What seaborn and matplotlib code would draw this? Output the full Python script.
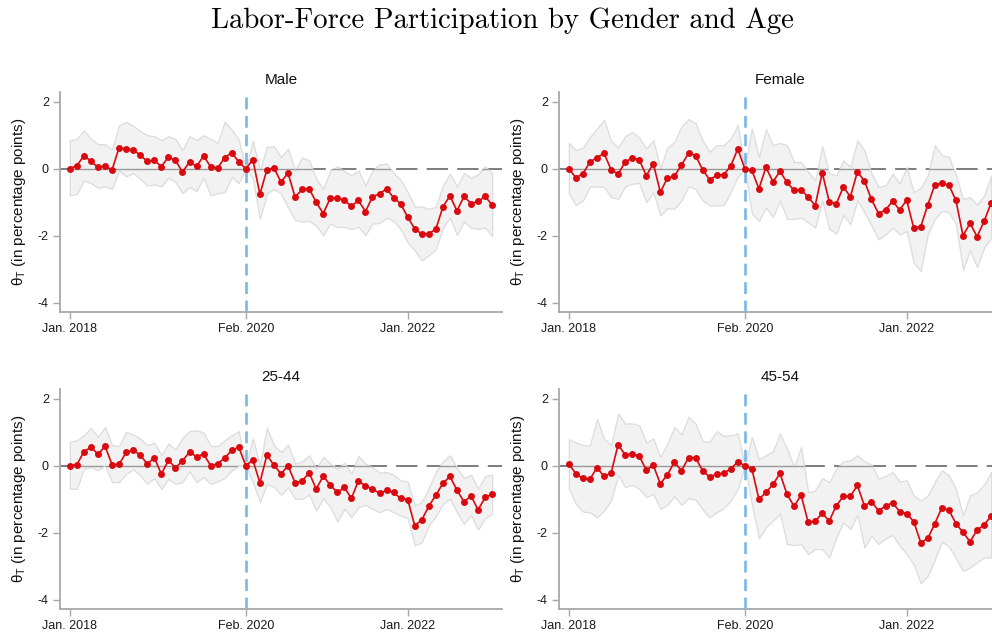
import numpy as np
import pandas as pd
import matplotlib
matplotlib.use("Agg")
import matplotlib.pyplot as plt
import seaborn as sns

# =====================================================
# Data (event-study coefficients, Jan. 2018 - Jan. 2023)
# =====================================================
month_idx = list(range(61))
tick_pos = [0, 25, 48]
tick_labels = ["Jan. 2018", "Feb. 2020", "Jan. 2022"]
event_month = 25

male = [0.0, 0.09, 0.39, 0.22, 0.04, 0.07, -0.03, 0.63, 0.58, 0.57,
        0.40, 0.22, 0.25, 0.06, 0.35, 0.25, -0.10, 0.20, 0.07, 0.38,
        0.06, 0.02, 0.33, 0.48, 0.20, 0.0, 0.27, -0.76, -0.03, 0.02,
        -0.40, -0.13, -0.85, -0.62, -0.60, -1.0, -1.34, -0.88, -0.88, -0.95,
        -1.12, -0.95, -1.28, -0.84, -0.75, -0.60, -0.87, -1.05, -1.45, -1.79,
        -1.96, -1.94, -1.81, -1.14, -0.81, -1.26, -0.83, -1.04, -0.98, -0.83,
        -1.08]
male_hi = [0.85, 0.89, 1.14, 0.89, 0.73, 0.73, 0.57, 1.30, 1.40, 1.28,
           1.12, 1.0, 0.97, 0.85, 0.97, 0.89, 0.55, 0.97, 0.85, 1.0,
           0.89, 0.77, 1.40, 1.16, 0.87, 0.0, 0.83, -0.05, 0.65, 0.67,
           0.35, 0.6, -0.05, 0.33, 0.25, -0.3, -0.6, -0.05, 0.07, -0.07,
           -0.2, -0.05, -0.5, -0.05, 0.13, 0.15, -0.13, -0.33, -0.7, -1.13,
           -1.13, -1.2, -1.14, -0.5, -0.15, -0.53, -0.13, -0.27, -0.17, 0.07,
           -0.13]
male_lo = [-0.8, -0.75, -0.35, -0.43, -0.57, -0.53, -0.6, -0.05, -0.23, -0.13,
           -0.3, -0.5, -0.47, -0.53, -0.27, -0.4, -0.73, -0.55, -0.67, -0.27,
           -0.8, -0.73, -0.7, -0.25, -0.43, 0.0, -0.3, -1.5, -0.75, -0.6,
           -0.75, -1.15, -1.53, -1.58, -1.56, -1.7, -1.98, -1.64, -1.74, -1.74,
           -1.8, -1.74, -1.98, -1.64, -1.62, -1.46, -1.56, -1.8, -2.2, -2.44,
           -2.74, -2.58, -2.41, -1.76, -1.46, -1.98, -1.58, -1.76, -1.8, -1.76,
           -2.01]

female = [0.0, -0.27, -0.15, 0.2, 0.33, 0.46, -0.03, -0.16, 0.2, 0.32,
          0.27, -0.21, 0.15, -0.70, -0.28, -0.22, 0.11, 0.46, 0.39, -0.03,
          -0.33, -0.2, -0.18, 0.08, 0.59, 0.0, -0.05, -0.6, 0.04, -0.39,
          -0.08, -0.41, -0.65, -0.63, -0.85, -1.1, -0.12, -0.99, -1.05, -0.54,
          -0.84, -0.09, -0.37, -0.92, -1.34, -1.23, -0.97, -1.23, -0.94, -1.77,
          -1.73, -1.08, -0.48, -0.44, -0.49, -0.95, -2.0, -1.63, -2.03, -1.57,
          -1.02]
female_hi = [0.77, 0.55, 0.63, 0.95, 1.2, 1.46, 0.83, 0.63, 0.97, 1.1,
             0.93, 0.6, 0.85, 0.0, 0.63, 0.8, 1.26, 1.48, 1.36, 0.85,
             0.5, 0.7, 0.7, 0.9, 1.3, 0.0, 1.2, 0.35, 1.18, 0.7,
             0.77, 0.7, 0.2, 0.2, -0.1, -0.35, 0.67, -0.15, -0.2, 0.25,
             0.05, 0.85, 0.55, -0.15, -0.55, -0.5, -0.15, -0.45, 0.05, -0.7,
             -0.57, -0.2, 0.7, 0.4, 0.35, -0.2, -0.9, -0.85, -1.08, -0.8,
             -0.2]
female_lo = [-0.75, -1.08, -0.95, -0.53, -0.53, -0.55, -0.85, -0.9, -0.53, -0.45,
             -0.43, -1.0, -0.7, -1.4, -1.18, -1.2, -0.95, -0.53, -0.6, -0.95,
             -1.1, -1.1, -1.08, -0.7, -0.25, 0.0, -1.34, -1.56, -1.16, -1.44,
             -0.95, -1.5, -1.5, -1.46, -1.6, -1.76, -0.95, -1.8, -1.94, -1.38,
             -1.66, -0.95, -1.3, -1.7, -2.11, -1.96, -1.76, -1.96, -1.86, -2.81,
             -3.05, -1.96, -1.5, -1.26, -1.3, -1.66, -3.02, -2.44, -2.94, -2.36,
             -2.06]

age_25_44 = [0.0, 0.03, 0.42, 0.55, 0.34, 0.58, 0.03, 0.04, 0.4, 0.46,
             0.32, 0.05, 0.24, -0.25, 0.16, -0.06, 0.14, 0.41, 0.27, 0.35,
             0.0, 0.06, 0.23, 0.46, 0.55, 0.0, 0.17, -0.51, 0.32, 0.01,
             -0.24, 0.0, -0.51, -0.46, -0.21, -0.70, -0.31, -0.58, -0.8, -0.65,
             -0.98, -0.45, -0.61, -0.70, -0.82, -0.74, -0.8, -0.98, -1.01, -1.79,
             -1.62, -1.21, -0.88, -0.53, -0.32, -0.73, -1.08, -0.9, -1.32, -0.95,
             -0.85]
age_25_44_hi = [0.71, 0.76, 0.91, 1.13, 0.86, 1.16, 0.61, 0.59, 1.01, 0.93,
                0.81, 0.61, 0.69, 0.31, 0.66, 0.49, 0.83, 1.03, 1.06, 0.99,
                0.59, 0.59, 0.76, 0.91, 1.03, 0.0, 0.81, 0.01, 1.13, 0.61,
                0.41, 0.63, 0.06, 0.13, 0.31, -0.09, 0.26, 0.06, -0.09, 0.09,
                -0.24, 0.29, 0.06, -0.04, -0.21, -0.19, -0.27, -0.44, -0.47, -1.19,
                -1.09, -0.67, -0.19, 0.13, 0.31, -0.07, -0.37, -0.27, -0.69, -0.31,
                -0.27]
age_25_44_lo = [-0.69, -0.69, -0.09, -0.04, -0.14, 0.01, -0.49, -0.49, -0.24, -0.11,
                -0.29, -0.54, -0.37, -0.69, -0.39, -0.54, -0.49, -0.17, -0.49, -0.34,
                -0.54, -0.47, -0.37, -0.14, -0.01, 0.0, -0.49, -1.09, -0.54, -0.64,
                -0.87, -0.64, -0.99, -0.99, -0.87, -1.34, -0.97, -1.24, -1.67, -1.29,
                -1.54, -1.24, -1.17, -1.29, -1.39, -1.29, -1.39, -1.49, -1.57, -2.37,
                -2.29, -1.79, -1.51, -1.14, -0.99, -1.39, -1.74, -1.47, -1.91, -1.57,
                -1.44]

age_45_54 = [0.05, -0.24, -0.38, -0.40, -0.06, -0.32, -0.22, 0.63, 0.32, 0.35,
             0.29, -0.13, 0.01, -0.54, -0.27, 0.11, -0.15, 0.24, 0.24, -0.15,
             -0.34, -0.25, -0.22, -0.10, 0.12, 0.0, -0.09, -1.0, -0.8, -0.56,
             -0.23, -0.86, -1.21, -0.88, -1.69, -1.66, -1.42, -1.65, -1.19, -0.92,
             -0.91, -0.59, -1.2, -1.07, -1.35, -1.2, -1.11, -1.37, -1.43, -1.67,
             -2.3, -2.17, -1.73, -1.25, -1.33, -1.73, -1.99, -2.27, -1.92, -1.77,
             -1.5]
age_45_54_hi = [0.79, 0.69, 0.61, 0.61, 1.39, 0.81, 0.61, 1.56, 1.26, 1.26,
                1.21, 0.69, 0.81, 0.26, 0.66, 1.16, 0.93, 1.46, 1.26, 0.73,
                0.71, 1.03, 0.89, 0.91, 0.96, 0.0, 0.86, 0.19, 0.31, 0.43,
                0.96, 0.51, -0.04, 0.56, -0.79, -0.74, -0.37, -0.49, -0.09, 0.13,
                0.16, 0.31, 0.13, 0.03, -0.39, -0.31, -0.19, -0.47, -0.44, -0.89,
                -1.04, -0.89, -0.49, -0.14, -0.29, -0.69, -1.49, -0.89, -0.79, -0.57,
                -0.19]
age_45_54_lo = [-0.69, -1.14, -1.37, -1.39, -1.54, -1.34, -1.04, -0.27, -0.64, -0.57,
                -0.69, -0.94, -0.84, -1.29, -1.17, -0.91, -1.17, -0.97, -1.01, -1.31,
                -1.54, -1.39, -1.27, -1.04, -0.69, 0.0, -1.14, -2.17, -1.84, -1.64,
                -1.44, -2.34, -2.37, -2.34, -2.64, -2.49, -2.49, -2.74, -2.14, -1.69,
                -1.89, -1.47, -2.44, -2.09, -2.34, -2.17, -2.07, -2.39, -2.64, -2.94,
                -3.51, -3.29, -2.81, -2.27, -2.41, -2.77, -3.14, -3.04, -2.89, -2.74,
                -2.74]

panel_titles = ["Male", "Female", "25-44", "45-54"]
panel_data = [(male, male_lo, male_hi),
              (female, female_lo, female_hi),
              (age_25_44, age_25_44_lo, age_25_44_hi),
              (age_45_54, age_45_54_lo, age_45_54_hi)]

# =====================================================
# Style
# =====================================================
sns.set_theme(style="white")
plt.rcParams["font.family"] = ["Liberation Sans", "DejaVu Sans"]
plt.rcParams["axes.unicode_minus"] = False
plt.rcParams["mathtext.fontset"] = "custom"
plt.rcParams["mathtext.rm"] = "Liberation Sans"
plt.rcParams["mathtext.it"] = "Liberation Sans:italic"

RED = "#D90A0F"
BLUE = "#78B8E6"
SPINE = "#A8A8A8"

W, H = 992, 634
fig = plt.figure(figsize=(W / 100, H / 100), dpi=100)

# axes boxes in pixels: left, top, width, height
boxes = [(60, 92, 442, 220), (559, 92, 442, 220),
         (60, 389, 442, 220), (559, 389, 442, 220)]

for (left, top, w, h), title, (vals, lo, hi) in zip(boxes, panel_titles, panel_data):
    ax = fig.add_axes([left / W, 1 - (top + h) / H, w / W, h / H])
    df = pd.DataFrame({"month": month_idx, "theta": vals, "lo": lo, "hi": hi})

    # zero line (dashed) behind the band
    ax.axhline(0, color="#5A5A5A", lw=1.1, dashes=(14, 6), zorder=1)

    band = ax.fill_between(df["month"], df["lo"], df["hi"], facecolor="#F2F2F2",
                           edgecolor="#DCDCDC", lw=0.9, zorder=2)
    # solid zero line shown through the band
    inner = ax.axhline(0, color="#9A9A9A", lw=1.0, zorder=3)
    inner.set_clip_path(band.get_paths()[0], ax.transData)

    ax.axvline(event_month, color=BLUE, lw=1.9, dashes=(4.5, 2.5), zorder=4)

    sns.lineplot(data=df, x="month", y="theta", ax=ax, color=RED, lw=1.2,
                 marker="o", markersize=5, markeredgewidth=0, zorder=5)

    ax.set_xlim(-1.4, 61.4)
    ax.set_ylim(-4.28, 2.29)
    ax.set_xticks(tick_pos)
    ax.set_xticklabels(tick_labels)
    ax.set_yticks([-4, -2, 0, 2])
    ax.set_xlabel("")
    ax.set_ylabel(r"θ$_\mathrm{T}$ (in percentage points)", fontsize=11,
                  color="#111111")
    ax.yaxis.set_label_coords(-32 / w, 0.5)
    ax.set_title(title, fontsize=11, pad=6, color="#111111")

    for side in ["top", "right"]:
        ax.spines[side].set_visible(False)
    for side in ["left", "bottom"]:
        ax.spines[side].set_color(SPINE)
        ax.spines[side].set_linewidth(1.3)
    ax.tick_params(axis="both", which="both", direction="out", length=5,
                   width=1.0, color=SPINE, labelsize=9, labelcolor="#1A1A1A",
                   left=True, bottom=True, pad=3)

fig.text(502 / W, 1 - 21 / H, "Labor-Force Participation by Gender and Age",
         ha="center", va="center", fontsize=20.7, family="cmr10", color="black")

fig.savefig("out.png", dpi=100)
plt.close(fig)
